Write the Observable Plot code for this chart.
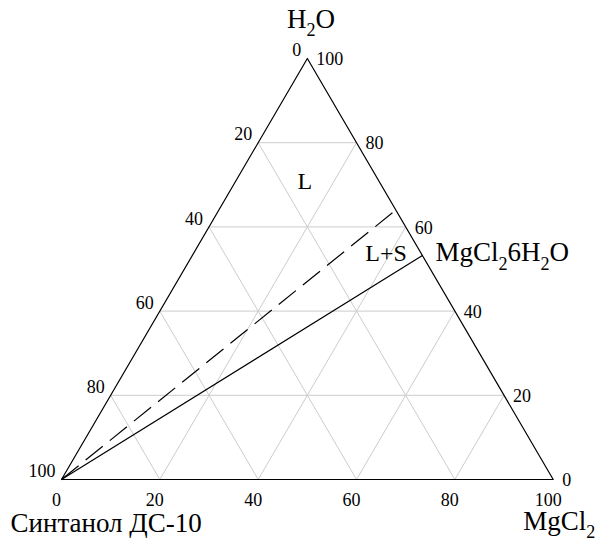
<!DOCTYPE html>
<html>
<head>
<meta charset="utf-8">
<script src="https://cdn.jsdelivr.net/npm/d3@7"></script>
<script src="https://cdn.jsdelivr.net/npm/@observablehq/plot@0.6"></script>
<style>
  html, body { margin: 0; padding: 0; background: #ffffff; }
</style>
</head>
<body>
<script>
// ---- data ----
const ticks = [0, 20, 40, 60, 80, 100];
const gridLevels = [20, 40, 60, 80];
// vertex components (MgCl2 %, H2O %)
const vertexNames = ["Синтанол ДС-10", "MgCl_2", "H_2O"];
const vertexMgCl2 = [0, 100, 0];
const vertexH2O = [0, 0, 100];
// hydrate composition on the MgCl2–H2O side
const hydrateLabel = "MgCl_26H_2O";
const hydrateMgCl2 = 46.8;
const hydrateH2O = 53.2;
// dashed boundary end point on the MgCl2–H2O side
const boundaryMgCl2 = 36;
const boundaryH2O = 64;
// phase-region labels
const regionNames = ["L", "L+S"];
const regionMgCl2 = [15, 40];
const regionH2O = [69, 52];

// ternary -> cartesian (unit triangle)
const tx = (m, w) => (m + w / 2) / 100;
const ty = (w) => w / 100;

const vertices = vertexNames.map((n, i) => ({name: n, m: vertexMgCl2[i], w: vertexH2O[i]}));
const outline = [vertices[0], vertices[1], vertices[2], vertices[0]];

const grid = [];
for (const v of gridLevels) {
  grid.push({m1: 0, w1: v, m2: 100 - v, w2: v});          // constant H2O
  grid.push({m1: v, w1: 0, m2: v, w2: 100 - v});          // constant MgCl2
  grid.push({m1: 100 - v, w1: 0, m2: 0, w2: 100 - v});    // constant Синтанол
}
const tieLines = [
  {m1: 0, w1: 0, m2: hydrateMgCl2, w2: hydrateH2O, dashed: false},
  {m1: 0, w1: 0, m2: boundaryMgCl2, w2: boundaryH2O, dashed: true}
];
const regions = regionNames.map((n, i) => ({name: n, m: regionMgCl2[i], w: regionH2O[i]}));

const linkOpts = {
  x1: d => tx(d.m1, d.w1), y1: d => ty(d.w1),
  x2: d => tx(d.m2, d.w2), y2: d => ty(d.w2)
};

const plot = Plot.plot({
  width: 602,
  height: 544,
  marginLeft: 61,
  marginRight: 49.3,
  marginTop: 58,
  marginBottom: 65,
  x: {domain: [0, 1], axis: null},
  y: {domain: [0, 1], axis: null},
  style: {fontFamily: "'Liberation Serif', 'Times New Roman', serif", background: "#ffffff", color: "#000000"},
  marks: [
    Plot.link(grid, {...linkOpts, stroke: "#cccccc", strokeWidth: 1}),
    Plot.line(outline, {x: d => tx(d.m, d.w), y: d => ty(d.w), stroke: "#000", strokeWidth: 1.2}),
    Plot.link(tieLines.filter(d => !d.dashed), {...linkOpts, stroke: "#000", strokeWidth: 1.2}),
    Plot.link(tieLines.filter(d => d.dashed), {...linkOpts, stroke: "#000", strokeWidth: 1.2, strokeDasharray: "22,9"}),
    // bottom ticks (MgCl2)
    Plot.text(ticks, {x: v => tx(v, 0), y: 0, text: d => String(d), dx: -5, dy: 26, lineAnchor: "bottom", fontSize: 18}),
    // right ticks (H2O)
    Plot.text(ticks, {x: v => tx(100 - v, v), y: v => ty(v), text: d => String(d), textAnchor: "start", dx: 9, dy: 1, fontSize: 18}),
    // left ticks (Синтанол)
    Plot.text(ticks, {x: s => tx(0, 100 - s), y: s => ty(100 - s), text: d => String(d), textAnchor: "end", dx: -6, dy: -8, fontSize: 18}),
    // vertex titles
    Plot.text([vertices[2]], {x: d => tx(d.m, d.w), y: d => ty(d.w), text: "name", dx: 3.7, dy: -31, lineAnchor: "bottom", fontSize: 27}),
    Plot.text([vertices[0]], {x: d => tx(d.m, d.w), y: d => ty(d.w), text: "name", textAnchor: "start", dx: -51, dy: 52, lineAnchor: "bottom", fontSize: 27}),
    Plot.text([vertices[1]], {x: d => tx(d.m, d.w), y: d => ty(d.w), text: "name", textAnchor: "start", dx: -30, dy: 50, lineAnchor: "bottom", fontSize: 27}),
    // hydrate label
    Plot.text([{name: hydrateLabel, m: hydrateMgCl2, w: hydrateH2O}], {x: d => tx(d.m, d.w), y: d => ty(d.w), text: "name", textAnchor: "start", dx: 13, dy: 5.5, lineAnchor: "bottom", fontSize: 27}),
    // region labels
    Plot.text(regions, {x: d => tx(d.m, d.w), y: d => ty(d.w), text: "name", lineAnchor: "bottom", fontSize: 24})
  ]
});

document.body.appendChild(plot);

// turn "_d" into subscript tspans
plot.querySelectorAll("text").forEach(t => {
  const s = t.textContent;
  if (!s.includes("_")) return;
  const fs = parseFloat(getComputedStyle(t).fontSize) || 27;
  const shift = fs * 0.33;
  const parts = s.split(/_(\d)/);
  t.textContent = "";
  let down = false;
  parts.forEach((p, i) => {
    if (!p) return;
    const ts = document.createElementNS("http://www.w3.org/2000/svg", "tspan");
    ts.textContent = p;
    if (i % 2 === 1) {
      ts.setAttribute("font-size", (fs * 0.67).toFixed(1));
      ts.setAttribute("dy", shift.toFixed(1));
      down = true;
    } else if (down) {
      ts.setAttribute("dy", (-shift).toFixed(1));
      down = false;
    }
    t.appendChild(ts);
  });
});
</script>
</body>
</html>
